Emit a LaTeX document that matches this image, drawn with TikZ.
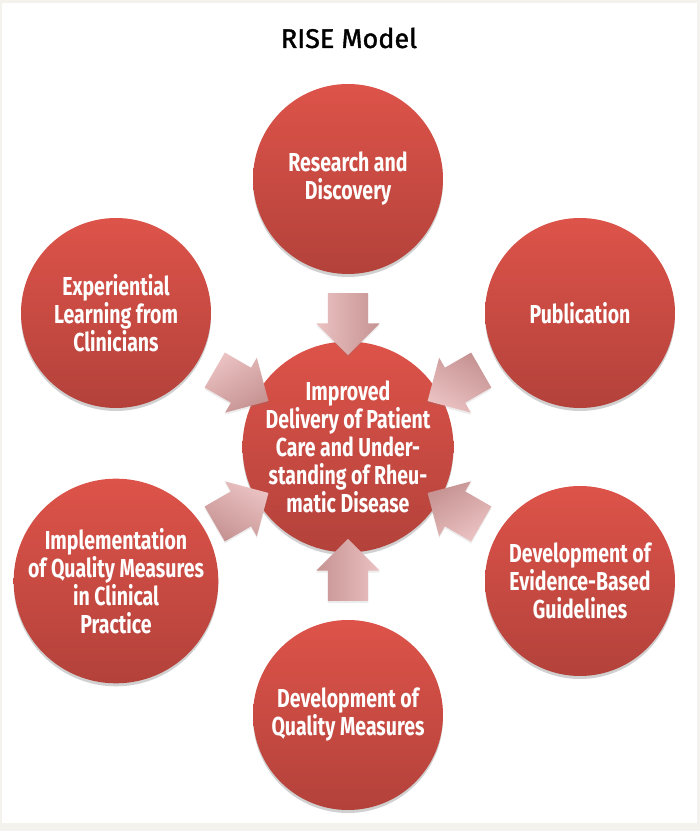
\documentclass[tikz,border=0pt]{standalone}
\usepackage{fontspec}
\setmainfont{Fira Sans}
\newfontfamily\narrowfont{Fira Sans}[FakeStretch=0.75]
\newfontfamily\headfont{Fira Sans}[FakeBold=1.4]
\usetikzlibrary{shapes.arrows,shadows,calc}

\definecolor{framebg}{HTML}{F3F2EC}
\definecolor{discred}{HTML}{DD5349}
\definecolor{discdark}{HTML}{B3423B}
\definecolor{arrowlight}{HTML}{EBC2C2}
\definecolor{arrowdark}{HTML}{C69292}

\begin{document}
\begin{tikzpicture}[x=1pt,y=1pt,
		disc/.style={circle, minimum size=190pt, inner sep=0pt, top color=discred, bottom color=discdark,
			text=white, align=center, font=\narrowfont\bfseries\fontsize{26}{28}\selectfont,
			drop shadow={shadow xshift=0pt, shadow yshift=-3pt, opacity=0.3, fill=black!60}},
		flow/.style={single arrow, minimum height=62pt, inner xsep=0pt, inner ysep=20pt,
			single arrow head extend=11.5pt, single arrow head indent=0pt, rotate=#1,
			top color=arrowlight, bottom color=arrowdark, shading angle=-#1,
			drop shadow={shadow xshift=0pt, shadow yshift=-2pt, opacity=0.15, fill=black!50}}]
	% frame
	\fill[framebg] (0,0) rectangle (700,831);
	\fill[white] (2,8) rectangle (697,828);
	\useasboundingbox (0,0) rectangle (700,831);

	\node[font=\headfont\fontsize{27}{30}\selectfont] (title) at (349,793) {RISE Model};

	% circles
	\node[disc] (hub) at (348,384) {Improved\\Delivery of Patient\\Care and Under-\\standing of Rheu-\\matic Disease};
	\node[disc] (research) at (348,652) {Research and\\Discovery};
	\node[disc] (publication) at (580,518) {Publication};
	\node[disc] (guidelines) at (580,250) {Development of\\Evidence-Based\\Guidelines};
	\node[disc] (measures) at (348,116) {Development of\\Quality Measures};
	\node[disc] (practice) at (116,250) {Implementation\\of Quality Measures\\in Clinical\\Practice};
	\node[disc] (learning) at (116,518) {Experiential\\Learning from\\Clinicians};

	% arrows into the hub
	\node[flow=-90] (arrRes) at ($(hub)!133pt!(research)$) {};
	\node[flow=210] (arrPub) at ($(hub)!133pt!(publication)$) {};
	\node[flow=150] (arrGui) at ($(hub)!133pt!(guidelines)$) {};
	\node[flow=90] (arrMea) at ($(hub)!133pt!(measures)$) {};
	\node[flow=30] (arrPra) at ($(hub)!133pt!(practice)$) {};
	\node[flow=-30] (arrLea) at ($(hub)!133pt!(learning)$) {};
\end{tikzpicture}
\end{document}
